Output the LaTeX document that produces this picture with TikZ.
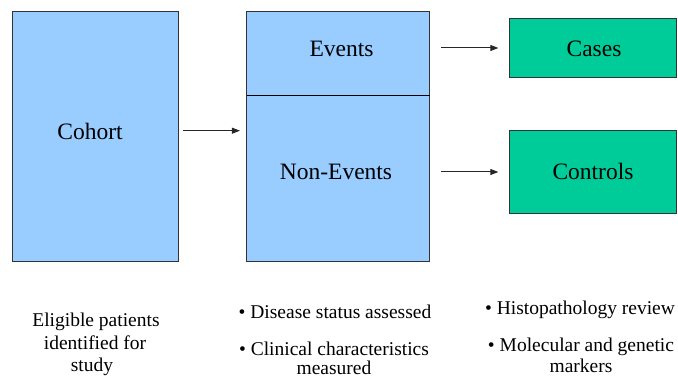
\documentclass[tikz,border=0pt]{standalone}
\usepackage{fontspec}
\setmainfont{Liberation Serif}
\usetikzlibrary{arrows.meta}
\definecolor{boxblue}{HTML}{99CCFF}
\definecolor{boxgreen}{HTML}{00CC99}
\begin{document}
\begin{tikzpicture}[x=1pt,y=-1pt,
  box/.style={draw=black!80, line width=1pt, inner sep=0pt, outer sep=0pt},
  bluebox/.style={box, fill=boxblue},
  greenbox/.style={box, fill=boxgreen},
  big/.style={font=\fontsize{23.5}{28}\selectfont, anchor=base, inner sep=0pt},
  small/.style={font=\fontsize{19.5}{23}\selectfont, anchor=base, inner sep=0pt},
  arr/.style={-{Triangle[length=8pt,width=6pt]}, line width=1pt, black!85}]
\useasboundingbox (0,0) rectangle (678,377);
% boxes
\node[bluebox, minimum width=166pt, minimum height=249pt] (cohort) at (95,136.5) {};
\node[bluebox, minimum width=183.3pt, minimum height=83.3pt] (events) at (338.3,53.6) {};
\node[bluebox, minimum width=183.3pt, minimum height=165.7pt] (nonevents) at (338.3,178.2) {};
\draw[line width=1.3pt, black] (events.south west) -- (events.south east);
\node[greenbox, minimum width=166.7pt, minimum height=59.4pt] (cases) at (592.7,48) {};
\node[greenbox, minimum width=166.7pt, minimum height=82.6pt] (controls) at (592.7,172) {};
% box labels
\node[big] (tcohort) at (90,139.5) {Cohort};
\node[big] (tevents) at (341.5,57) {Events};
\node[big] (tnonevents) at (336,180) {Non-Events};
\node[big] (tcases) at (594,57) {Cases};
\node[big] (tcontrols) at (593,180) {Controls};
% arrows
\coordinate (a1) at (0,130.7);
\draw[arr, shorten <=5pt, shorten >=6.7pt] (cohort.east |- a1) -- (nonevents.west |- a1);
\draw[arr, shorten <=11pt, shorten >=11pt] (events.east |- cases.west) -- (cases.west);
\draw[arr, shorten <=11pt, shorten >=11pt] (nonevents.east |- controls.west) -- (controls.west);
% bottom texts
\node[small] (c1) at (96,326.7) {Eligible patients};
\node[small] (c2) at (95,349) {identified for};
\node[small] (c3) at (92,371) {study};
\node[small] (m1) at (335,318) {• Disease status assessed};
\node[small] (m2) at (334,355) {• Clinical characteristics};
\node[small] (m3) at (334,374) {measured};
\node[small] (r1) at (580,314) {• Histopathology review};
\node[small] (r2) at (581,351) {• Molecular and genetic};
\node[small] (r3) at (581,372) {markers};
\end{tikzpicture}
\end{document}
